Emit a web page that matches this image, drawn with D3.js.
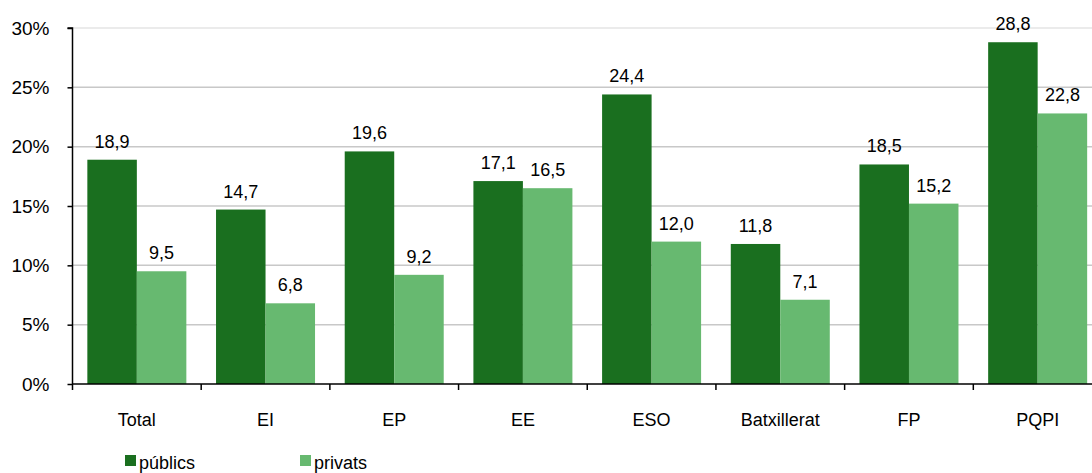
<!DOCTYPE html>
<html>
<head>
<meta charset="utf-8">
<script src="https://cdn.jsdelivr.net/npm/d3@7"></script>
<style>
  html, body { margin: 0; padding: 0; background: #fff; }
  svg { display: block; font-family: "Liberation Sans", Arial, sans-serif; }
</style>
</head>
<body>
<svg id="chart" width="1092" height="473"></svg>
<script>
const categories = ["Total", "EI", "EP", "EE", "ESO", "Batxillerat", "FP", "PQPI"];
const publics = [18.9, 14.7, 19.6, 17.1, 24.4, 11.8, 18.5, 28.8];
const privats = [9.5, 6.8, 9.2, 16.5, 12.0, 7.1, 15.2, 22.8];
const seriesNames = ["públics", "privats"];
const yTicks = [0, 5, 10, 15, 20, 25, 30];

const colors = ["#1a6f1f", "#67b970"];
const svg = d3.select("#chart");

const x = d3.scaleBand().domain(categories).range([72.5, 1102]).padding(0);
const y = d3.scaleLinear().domain([0, 30]).range([384, 28]);
const barW = 49.5;

// gridlines
svg.append("g").selectAll("line").data(yTicks.filter(d => d > 0)).join("line")
  .attr("x1", 72.5).attr("x2", 1092)
  .attr("y1", d => y(d)).attr("y2", d => y(d))
  .attr("stroke", d => d === 30 ? "#e4e4e4" : "#c8c8c8").attr("stroke-width", 1.5);

const series = [publics, privats];
series.forEach((vals, si) => {
  const g = svg.append("g");
  g.selectAll("rect").data(categories).join("rect")
    .attr("x", (c) => x(c) + x.bandwidth() / 2 + (si === 0 ? -barW : 0))
    .attr("width", barW)
    .attr("y", (c, i) => y(vals[i]))
    .attr("height", (c, i) => y(0) - y(vals[i]))
    .attr("fill", colors[si]);
  g.selectAll("text").data(categories).join("text")
    .attr("x", (c) => x(c) + x.bandwidth() / 2 + (si === 0 ? -barW / 2 : barW / 2))
    .attr("y", (c, i) => y(vals[i]) - 12)
    .attr("text-anchor", "middle")
    .attr("font-size", 18)
    .attr("fill", "#000")
    .text((c, i) => d3.format(".1f")(vals[i]).replace(".", ","));
});

// y axis
const yAxis = d3.axisLeft(y).tickValues(yTicks).tickSize(5).tickPadding(18)
  .tickFormat(d => d + "%");
const ya = svg.append("g").attr("transform", "translate(72.5,0)").call(yAxis);
ya.select(".domain").attr("stroke", "#000").attr("stroke-width", 1.5).attr("d", "M-5," + y(30) + "H0V" + y(0));
ya.selectAll(".tick line").attr("stroke", "#000").attr("stroke-width", 1.5);
ya.selectAll(".tick text").attr("font-size", 19).attr("fill", "#000")
  .attr("font-family", "Liberation Sans, Arial, sans-serif");

// x axis
const xa = svg.append("g").attr("transform", "translate(0," + y(0) + ")");
xa.append("line").attr("x1", 72.5).attr("x2", 1092).attr("y1", 0).attr("y2", 0)
  .attr("stroke", "#000").attr("stroke-width", 1.5);
xa.selectAll("line.tk").data(categories).join("line").attr("class", "tk")
  .attr("x1", c => x(c)).attr("x2", c => x(c)).attr("y1", 0).attr("y2", 6)
  .attr("stroke", "#000").attr("stroke-width", 1.5);
xa.selectAll("text").data(categories).join("text")
  .attr("x", c => x(c) + x.bandwidth() / 2)
  .attr("y", 42)
  .attr("text-anchor", "middle")
  .attr("font-size", 18)
  .attr("fill", "#000")
  .text(c => c);

// legend
const legX = [125, 300];
const leg = svg.append("g");
seriesNames.forEach((n, i) => {
  leg.append("rect").attr("x", legX[i]).attr("y", 455).attr("width", 11).attr("height", 11)
    .attr("fill", colors[i]);
  leg.append("text").attr("x", legX[i] + 14).attr("y", 469)
    .attr("font-size", 18).attr("fill", "#000").text(n);
});
</script>
</body>
</html>
